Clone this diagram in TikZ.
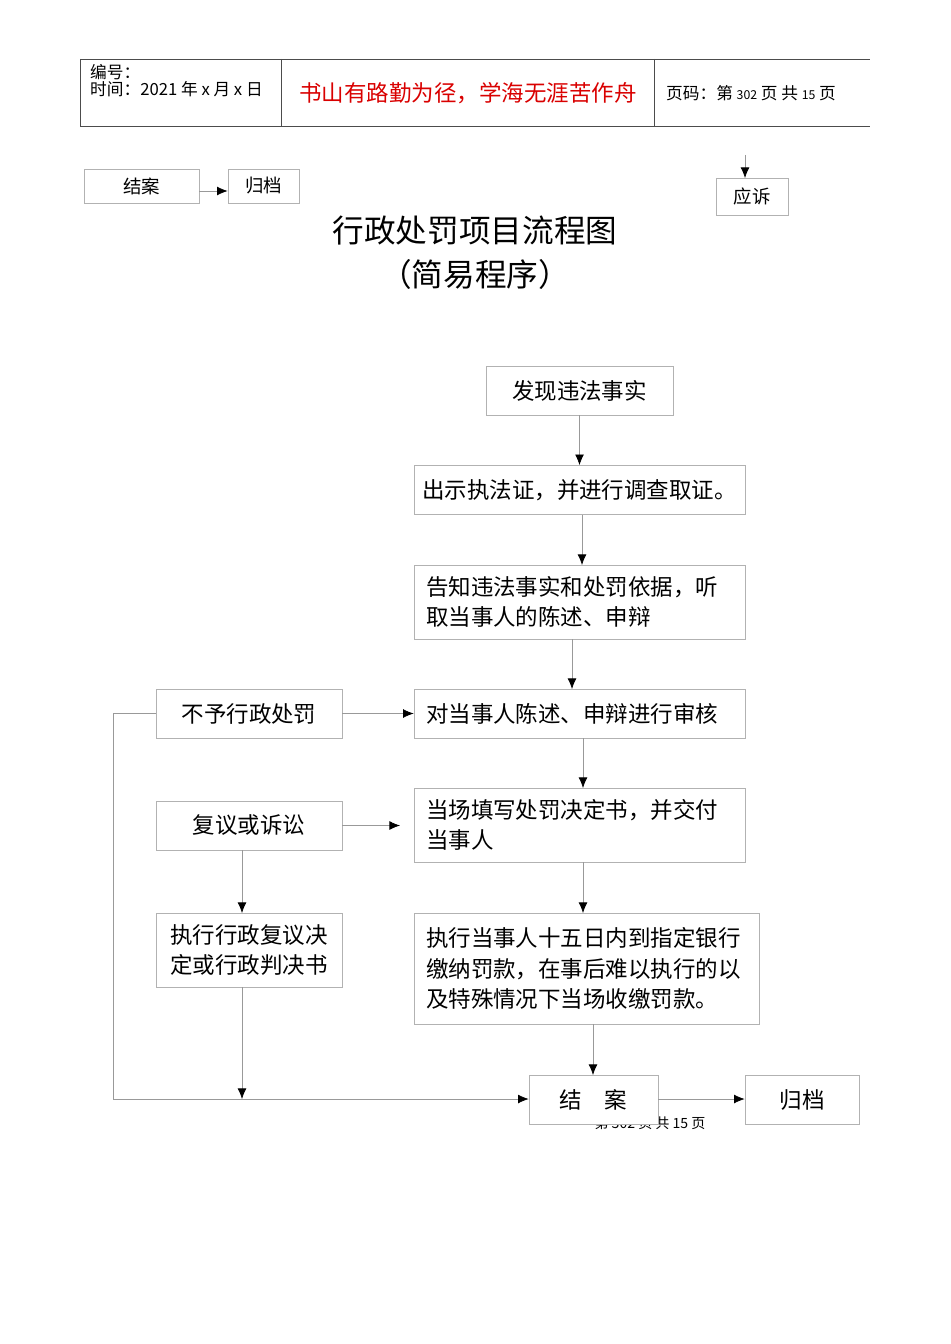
\documentclass[tikz,border=0pt]{standalone}
\usepackage{fontspec}
\setmainfont{Noto Sans CJK SC}
\usetikzlibrary{positioning,arrows.meta}
\tikzset{
  box/.style={draw=black!30, fill=white, minimum height=0.98cm, inner sep=0pt},
  lbox/.style={box, align=left, minimum width=#1, text width=#1-0.48cm},
  link/.style={draw=black!40, -{Latex[black,length=6pt,width=5pt]}},
  plain/.style={draw=black!40}
}
\begin{document}
\begin{tikzpicture}[x=0.02cm, y=-0.02cm, font=\fontsize{12.8}{17.5}\selectfont]
\useasboundingbox (0,0) rectangle (950,1344);

% header
\draw[black!70] (80,59) -- (870,59);
\draw[black!70] (80,126) -- (870,126);
\draw[black!70] (80,59) -- (80,126);
\draw[black!70] (281,59) -- (281,126);
\draw[black!70] (654,59) -- (654,126);
\node[anchor=north west, align=left, font=\fontsize{9.5}{10}\selectfont] (hid) at (84,58) {编号：\\时间：2021 年 x 月 x 日};
\node[red!85!black, font=\fontsize{12.8}{14}\selectfont] (motto) at (468,93) {书山有路勤为径，学海无涯苦作舟};
\node[anchor=west, font=\fontsize{9.5}{10}\selectfont] (hpage) at (660,93) {页码：第 {\fontsize{7}{8}\selectfont 302} 页 共 {\fontsize{7}{8}\selectfont 15} 页};

% stray boxes at top
\node[box, minimum width=2.3cm, minimum height=0.68cm, font=\fontsize{10.5}{11}\selectfont] (topend) at (141.5,186) {结案};
\node[box, minimum width=1.42cm, minimum height=0.68cm, font=\fontsize{10.5}{11}\selectfont] (toparch) at (263.5,186) {归档};
\node[box, minimum width=1.44cm, minimum height=0.74cm, font=\fontsize{10.5}{11}\selectfont] (sue) at (752,196.5) {应诉};
\coordinate (suein) at (745,155);
\draw[link] (topend.east |- 0,191) -- (toparch.west |- 0,191);
\draw[link] (suein) -- (745,178);

% title
\node[font=\fontsize{18}{25}\selectfont, align=center] (title) at (475,253) {行政处罚项目流程图\\（简易程序）};

% flow
\node[box, minimum width=3.74cm] (found) at (579.5,390.5) {发现违法事实};
\node[box, minimum width=6.62cm] (show) at (579.5,490) {出示执法证，并进行调查取证。};
\node[lbox=6.62cm, minimum height=1.48cm] (tell) at (579.5,602) {告知违法事实和处罚依据，听\\取当事人的陈述、申辩};
\node[lbox=6.62cm] (check) at (579.5,713.5) {对当事人陈述、申辩进行审核};
\node[box, minimum width=3.72cm] (nopun) at (249,713.5) {不予行政处罚};
\node[lbox=6.62cm, minimum height=1.48cm] (fill) at (579.5,825) {当场填写处罚决定书，并交付\\当事人};
\node[box, minimum width=3.72cm] (review) at (249,825.5) {复议或诉讼};
\node[box, minimum width=3.72cm, minimum height=1.48cm, align=center] (exec) at (249,950) {执行行政复议决\\定或行政判决书};
\node[lbox=6.9cm, minimum height=2.22cm] (pay) at (586.5,968.5) {执行当事人十五日内到指定银行\\缴纳罚款，在事后难以执行的以\\及特殊情况下当场收缴罚款。};
\node[font=\fontsize{8}{10}\selectfont] (foot) at (650,1123) {第 302 页 共 15 页};
\node[box, minimum width=2.58cm] (close) at (593.5,1099.5) {结\hspace{1em}案};
\node[box, minimum width=2.28cm] (arch) at (802,1099.5) {归档};

\coordinate (corner) at (113,1099);
\coordinate (meet) at (242,1099);
\draw[link] (found) -- (show);
\draw[link] (582,515) -- (582,565);
\draw[link] (572,639) -- (572,689);
\draw[link] (583,738) -- (583,788);
\draw[link] (583,862) -- (583,913);
\draw[link] (593,1024) -- (593,1075);
\draw[link] (nopun) -- (check);
\draw[link] (review) -- (400,825.5);
\draw[link] (242,850) -- (242,913);
\draw[link] (242,987) -- (meet);
\draw[plain] (nopun.west) -- (113,713.5) -- (corner);
\draw[link] (corner) -- (close.west |- corner);
\draw[link] (close.east |- corner) -- (arch.west |- corner);
\end{tikzpicture}
\end{document}
